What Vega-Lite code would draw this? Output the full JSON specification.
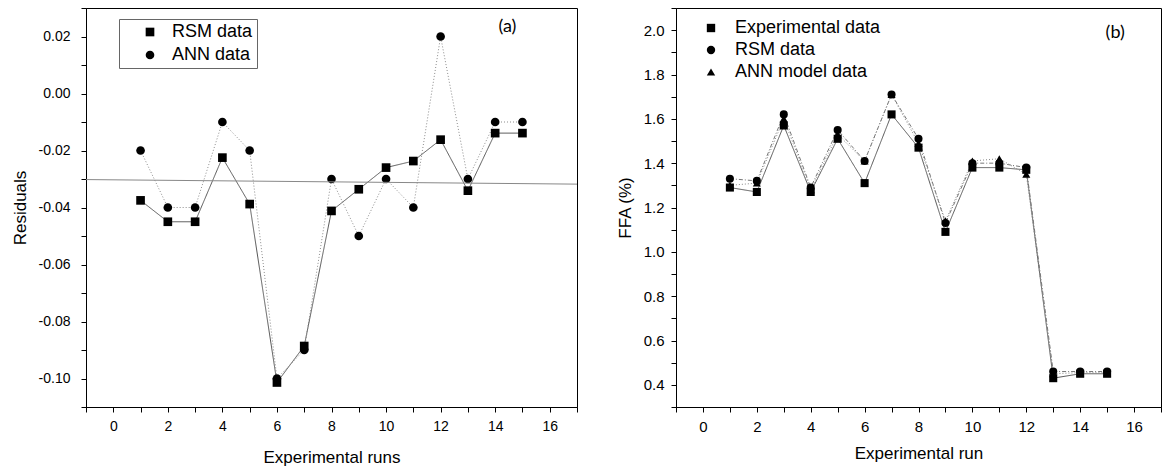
{
  "$schema": "https://vega.github.io/schema/vega-lite/v6.json",
  "padding": {"left": 10, "top": 0, "right": 0, "bottom": 0},
  "spacing": 37,
  "resolve": {
    "scale": {"shape": "independent", "color": "independent", "strokeDash": "independent"},
    "legend": {"shape": "independent"}
  },
  "config": {
    "font": "Liberation Sans",
    "view": {"stroke": "black", "strokeWidth": 1},
    "axis": {
      "domainColor": "black", "tickColor": "black", "labelColor": "black", "titleColor": "black",
      "labelFont": "Liberation Sans", "titleFont": "Liberation Sans", "titleFontWeight": "normal",
      "titleFontSize": 17, "grid": false, "labelOverlap": false, "labelFlush": false,
      "domainWidth": 1, "tickWidth": 1, "tickSize": 5, "tickCount": 60
    },
    "text": {"font": "Liberation Sans"}
  },
  "hconcat": [
    {
      "width": 491,
      "height": 399,
      "layer": [
        {
          "data": {"values": [
            {"run": 1, "series": "RSM data", "value": -0.0375},
            {"run": 2, "series": "RSM data", "value": -0.045},
            {"run": 3, "series": "RSM data", "value": -0.045},
            {"run": 4, "series": "RSM data", "value": -0.0225},
            {"run": 5, "series": "RSM data", "value": -0.0388},
            {"run": 6, "series": "RSM data", "value": -0.1014},
            {"run": 7, "series": "RSM data", "value": -0.0886},
            {"run": 8, "series": "RSM data", "value": -0.0412},
            {"run": 9, "series": "RSM data", "value": -0.0336},
            {"run": 10, "series": "RSM data", "value": -0.026},
            {"run": 11, "series": "RSM data", "value": -0.0237},
            {"run": 12, "series": "RSM data", "value": -0.0162},
            {"run": 13, "series": "RSM data", "value": -0.0341},
            {"run": 14, "series": "RSM data", "value": -0.0139},
            {"run": 15, "series": "RSM data", "value": -0.0139},
            {"run": 1, "series": "ANN data", "value": -0.02},
            {"run": 2, "series": "ANN data", "value": -0.04},
            {"run": 3, "series": "ANN data", "value": -0.04},
            {"run": 4, "series": "ANN data", "value": -0.01},
            {"run": 5, "series": "ANN data", "value": -0.02},
            {"run": 6, "series": "ANN data", "value": -0.1},
            {"run": 7, "series": "ANN data", "value": -0.09},
            {"run": 8, "series": "ANN data", "value": -0.03},
            {"run": 9, "series": "ANN data", "value": -0.05},
            {"run": 10, "series": "ANN data", "value": -0.03},
            {"run": 11, "series": "ANN data", "value": -0.04},
            {"run": 12, "series": "ANN data", "value": 0.02},
            {"run": 13, "series": "ANN data", "value": -0.03},
            {"run": 14, "series": "ANN data", "value": -0.01},
            {"run": 15, "series": "ANN data", "value": -0.01}
          ]},
          "layer": [
            {
              "mark": {"type": "line", "strokeWidth": 1},
              "encoding": {
                "x": {
                  "field": "run", "type": "quantitative",
                  "scale": {"domain": [-1, 17], "nice": false, "zero": false},
                  "axis": {
                    "title": "Experimental runs",
                    "values": [-1, 0, 1, 2, 3, 4, 5, 6, 7, 8, 9, 10, 11, 12, 13, 14, 15, 16, 17],
                    "labelExpr": "abs(datum.value) % 2 === 0 ? format(datum.value, 'd') : ''",
                    "labelFontSize": 14, "labelPadding": 7, "titlePadding": 16
                  }
                },
                "y": {
                  "field": "value", "type": "quantitative",
                  "scale": {"domain": [-0.11, 0.03], "nice": false, "zero": false},
                  "axis": {
                    "title": "Residuals",
                    "values": [-0.11, -0.1, -0.09, -0.08, -0.07, -0.06, -0.05, -0.04, -0.03, -0.02, -0.01, 0, 0.01, 0.02, 0.03],
                    "labelExpr": "abs(round(datum.value*100)) % 2 === 0 ? replace(format(datum.value, '.2f'), '\u2212', '-') : ''",
                    "labelFontSize": 14, "labelPadding": 11, "titlePadding": 9
                  }
                },
                "color": {"field": "series", "type": "nominal", "scale": {"domain": ["ANN data", "RSM data"], "range": ["#8c8c8c", "#555555"]}, "legend": null},
                "strokeDash": {"field": "series", "type": "nominal", "scale": {"domain": ["ANN data", "RSM data"], "range": [[1, 2], [1, 0]]}, "legend": null}
              }
            },
            {
              "mark": {"type": "point", "filled": true, "color": "black", "opacity": 1, "size": 75},
              "encoding": {
                "x": {"field": "run", "type": "quantitative"},
                "y": {"field": "value", "type": "quantitative"},
                "shape": {
                  "field": "series", "type": "nominal",
                  "scale": {"domain": ["RSM data", "ANN data"], "range": ["square", "circle"]},
                  "legend": {
                    "title": null, "orient": "none", "legendX": 33, "legendY": 11,
                    "padding": 4, "strokeColor": "#666666", "fillColor": "white",
                    "labelFont": "Liberation Sans", "labelFontSize": 18, "labelColor": "black",
                    "symbolSize": 75, "symbolOffset": 18, "labelOffset": 13, "rowPadding": 5
                  }
                }
              }
            }
          ]
        },
        {
          "data": {"values": [{"run": -1, "value": -0.0302, "run2": 17, "value2": -0.0318}]},
          "mark": {"type": "rule", "color": "#888888", "strokeWidth": 1},
          "encoding": {
            "x": {"field": "run", "type": "quantitative"},
            "y": {"field": "value", "type": "quantitative"},
            "x2": {"field": "run2"},
            "y2": {"field": "value2"}
          }
        },
        {
          "data": {"values": [{"run": 14.45, "value": 0.0235, "label": "(a)"}]},
          "mark": {"type": "text", "font": "Lato", "fontSize": 18, "color": "black", "align": "center", "baseline": "middle"},
          "encoding": {
            "x": {"field": "run", "type": "quantitative"},
            "y": {"field": "value", "type": "quantitative"},
            "text": {"field": "label"}
          }
        }
      ]
    },
    {
      "width": 485,
      "height": 399,
      "layer": [
        {
          "data": {"values": [
            {"run": 1, "series": "Experimental data", "value": 1.29},
            {"run": 2, "series": "Experimental data", "value": 1.27},
            {"run": 3, "series": "Experimental data", "value": 1.57},
            {"run": 4, "series": "Experimental data", "value": 1.27},
            {"run": 5, "series": "Experimental data", "value": 1.51},
            {"run": 6, "series": "Experimental data", "value": 1.31},
            {"run": 7, "series": "Experimental data", "value": 1.62},
            {"run": 8, "series": "Experimental data", "value": 1.47},
            {"run": 9, "series": "Experimental data", "value": 1.09},
            {"run": 10, "series": "Experimental data", "value": 1.38},
            {"run": 11, "series": "Experimental data", "value": 1.38},
            {"run": 12, "series": "Experimental data", "value": 1.37},
            {"run": 13, "series": "Experimental data", "value": 0.43},
            {"run": 14, "series": "Experimental data", "value": 0.45},
            {"run": 15, "series": "Experimental data", "value": 0.45},
            {"run": 1, "series": "RSM data", "value": 1.33},
            {"run": 2, "series": "RSM data", "value": 1.32},
            {"run": 3, "series": "RSM data", "value": 1.62},
            {"run": 4, "series": "RSM data", "value": 1.29},
            {"run": 5, "series": "RSM data", "value": 1.55},
            {"run": 6, "series": "RSM data", "value": 1.41},
            {"run": 7, "series": "RSM data", "value": 1.71},
            {"run": 8, "series": "RSM data", "value": 1.51},
            {"run": 9, "series": "RSM data", "value": 1.13},
            {"run": 10, "series": "RSM data", "value": 1.4},
            {"run": 11, "series": "RSM data", "value": 1.4},
            {"run": 12, "series": "RSM data", "value": 1.38},
            {"run": 13, "series": "RSM data", "value": 0.46},
            {"run": 14, "series": "RSM data", "value": 0.46},
            {"run": 15, "series": "RSM data", "value": 0.46},
            {"run": 1, "series": "ANN model data", "value": 1.3},
            {"run": 2, "series": "ANN model data", "value": 1.31},
            {"run": 3, "series": "ANN model data", "value": 1.6},
            {"run": 4, "series": "ANN model data", "value": 1.28},
            {"run": 5, "series": "ANN model data", "value": 1.53},
            {"run": 6, "series": "ANN model data", "value": 1.41},
            {"run": 7, "series": "ANN model data", "value": 1.71},
            {"run": 8, "series": "ANN model data", "value": 1.49},
            {"run": 9, "series": "ANN model data", "value": 1.14},
            {"run": 10, "series": "ANN model data", "value": 1.41},
            {"run": 11, "series": "ANN model data", "value": 1.42},
            {"run": 12, "series": "ANN model data", "value": 1.35},
            {"run": 13, "series": "ANN model data", "value": 0.45},
            {"run": 14, "series": "ANN model data", "value": 0.455},
            {"run": 15, "series": "ANN model data", "value": 0.455}
          ]},
          "layer": [
            {
              "mark": {"type": "line", "strokeWidth": 1},
              "encoding": {
                "x": {
                  "field": "run", "type": "quantitative",
                  "scale": {"domain": [-1, 17], "nice": false, "zero": false},
                  "axis": {
                    "title": "Experimental run",
                    "values": [-1, 0, 1, 2, 3, 4, 5, 6, 7, 8, 9, 10, 11, 12, 13, 14, 15, 16, 17],
                    "labelExpr": "abs(datum.value) % 2 === 0 ? format(datum.value, 'd') : ''",
                    "labelFontSize": 15, "labelPadding": 7, "titlePadding": 11
                  }
                },
                "y": {
                  "field": "value", "type": "quantitative",
                  "scale": {"domain": [0.3, 2.1], "nice": false, "zero": false},
                  "axis": {
                    "title": "FFA (%)",
                    "values": [0.3, 0.4, 0.5, 0.6, 0.7, 0.8, 0.9, 1.0, 1.1, 1.2, 1.3, 1.4, 1.5, 1.6, 1.7, 1.8, 1.9, 2.0, 2.1],
                    "labelExpr": "round(datum.value*10) % 2 === 0 ? format(datum.value, '.1f') : ''",
                    "labelFontSize": 15, "labelPadding": 7, "titlePadding": 9
                  }
                },
                "color": {"field": "series", "type": "nominal", "scale": {"domain": ["ANN model data", "RSM data", "Experimental data"], "range": ["#888888", "#777777", "#555555"]}, "legend": null},
                "strokeDash": {"field": "series", "type": "nominal", "scale": {"domain": ["ANN model data", "RSM data", "Experimental data"], "range": [[1, 2], [4, 2, 1, 2], [1, 0]]}, "legend": null}
              }
            },
            {
              "mark": {"type": "point", "filled": true, "color": "black", "opacity": 1, "size": 65},
              "encoding": {
                "x": {"field": "run", "type": "quantitative"},
                "y": {"field": "value", "type": "quantitative"},
                "shape": {
                  "field": "series", "type": "nominal",
                  "scale": {"domain": ["Experimental data", "RSM data", "ANN model data"], "range": ["square", "circle", "triangle-up"]},
                  "legend": {
                    "title": null, "orient": "none", "legendX": 6, "legendY": 7,
                    "padding": 4,
                    "labelFont": "Liberation Sans", "labelFontSize": 18, "labelColor": "black",
                    "symbolSize": 70, "symbolOffset": 16, "labelOffset": 15, "rowPadding": 4
                  }
                }
              }
            }
          ]
        },
        {
          "data": {"values": [{"run": 15.3, "value": 1.985, "label": "(b)"}]},
          "mark": {"type": "text", "font": "Lato", "fontSize": 18, "color": "black", "align": "center", "baseline": "middle"},
          "encoding": {
            "x": {"field": "run", "type": "quantitative"},
            "y": {"field": "value", "type": "quantitative"},
            "text": {"field": "label"}
          }
        }
      ]
    }
  ]
}
